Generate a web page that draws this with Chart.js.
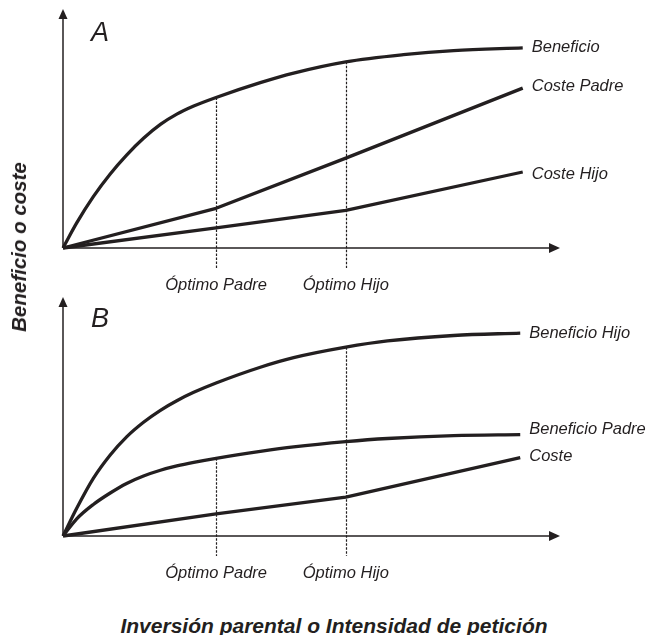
<!DOCTYPE html>
<html>
<head>
<meta charset="utf-8">
<script src="https://cdn.jsdelivr.net/npm/chart.js@4/dist/chart.umd.min.js"></script>
<style>
  html, body { margin: 0; padding: 0; background: #fff; }
  #wrap { position: relative; width: 649px; height: 635px; overflow: hidden; }
  .panel { position: absolute; left: 0; width: 649px; height: 300px; }
  .title { position: absolute; font-family: "Liberation Sans", Arial, sans-serif; font-weight: bold; font-style: italic; color: #231f20; white-space: nowrap; }
  #ytitle { left: 19px; top: 247px; font-size: 20.5px; transform: translate(-50%, -50%) rotate(-90deg); }
  #xtitle { left: 334px; top: 626px; font-size: 21px; transform: translate(-50%, -50%); }
</style>
</head>
<body>
<div id="wrap">
  <div class="panel" style="top:0px"><canvas id="cA" width="649" height="300"></canvas></div>
  <div class="panel" style="top:288px"><canvas id="cB" width="649" height="300"></canvas></div>
  <div class="title" id="ytitle">Beneficio o coste</div>
  <div class="title" id="xtitle">Inversión parental o Intensidad de petición</div>
</div>
<script>
// ---------- DATA ----------
// Panel A
const panelA_beneficio_x = [0, 2.76, 6.1, 9.5, 12.8, 16.2, 19.6, 22.9, 26.3, 30.8, 39.7, 46.4, 56.9, 68.5, 78.6, 92.5];
const panelA_beneficio_y = [0, 10.5, 21.5, 31.0, 38.9, 45.9, 51.7, 56.0, 59.4, 63.0, 69.2, 73.2, 77.9, 80.9, 82.6, 83.7];
const panelA_costePadre_x = [0, 30.8, 56.9, 92.5];
const panelA_costePadre_y = [0, 16.6, 37.6, 66.9];
const panelA_costeHijo_x = [0, 30.8, 56.9, 92.5];
const panelA_costeHijo_y = [0, 8.4, 15.7, 31.8];
const panelA_names = ["Beneficio", "Coste Padre", "Coste Hijo"];

// Panel B
const panelB_benefHijo_x = [0, 2.76, 6.1, 9.5, 12.8, 16.2, 19.6, 22.9, 26.3, 30.8, 39.7, 46.4, 56.9, 65.3, 78.6, 92];
const panelB_benefHijo_y = [0, 11.6, 24.1, 33.9, 41.5, 47.6, 52.6, 56.6, 60.1, 64.0, 70.6, 74.6, 79.0, 81.6, 83.9, 84.9];
const panelB_benefPadre_x = [0, 2.76, 6.1, 9.5, 12.8, 16.2, 19.6, 22.9, 26.3, 30.8, 39.7, 46.4, 56.9, 65.3, 78.6, 92];
const panelB_benefPadre_y = [0, 7.2, 13.2, 18.0, 22.0, 25.1, 27.5, 29.3, 30.8, 32.5, 35.4, 37.3, 39.5, 40.8, 42.0, 42.4];
const panelB_coste_x = [0, 30.8, 56.9, 92];
const panelB_coste_y = [0, 9.3, 16.3, 32.8];
const panelB_names = ["Beneficio Hijo", "Beneficio Padre", "Coste"];
// curved (benefit) vs straight (cost) series
const panelA_curved = [true, false, false];
const panelB_curved = [true, true, false];

// Optima (x positions) and their labels
const optimo_x = [30.8, 56.9];
const optimo_labels = ["Óptimo Padre", "Óptimo Hijo"];
// which series the dashed line rises to, per panel (index into that panel's series)
const panelA_optimo_series = [0, 0];
const panelB_optimo_series = [1, 0];

// ---------- DRAWING ----------
const INK = "#231f20";
const FONT = '"Liberation Sans", Arial, sans-serif';

const decor = {
  id: 'decor',
  beforeDatasetsDraw(chart, args, opts) {
    const ctx = chart.ctx, xs = chart.scales.x, ys = chart.scales.y;
    const x0 = xs.getPixelForValue(0), y0 = ys.getPixelForValue(0);
    const top = chart.chartArea.top, right = chart.chartArea.right;
    ctx.save();
    ctx.strokeStyle = INK; ctx.fillStyle = INK; ctx.lineWidth = 1.5;
    // y axis
    ctx.beginPath(); ctx.moveTo(x0, y0); ctx.lineTo(x0, top + 8); ctx.stroke();
    ctx.beginPath(); ctx.moveTo(x0, top); ctx.lineTo(x0 - 4.5, top + 10); ctx.lineTo(x0 + 4.5, top + 10); ctx.closePath(); ctx.fill();
    // x axis
    ctx.beginPath(); ctx.moveTo(x0, y0); ctx.lineTo(right - 8, y0); ctx.stroke();
    ctx.beginPath(); ctx.moveTo(right, y0); ctx.lineTo(right - 11, y0 - 5); ctx.lineTo(right - 11, y0 + 5); ctx.closePath(); ctx.fill();
    // dashed optimum lines
    ctx.lineWidth = 1.2; ctx.setLineDash([2.5, 1.5]);
    optimo_x.forEach((ox, i) => {
      const ds = chart.data.datasets[opts.optSeries[i]].data;
      const pt = ds.find(p => p.x === ox);
      const px = Math.round(xs.getPixelForValue(ox)) + 0.5;
      ctx.beginPath();
      ctx.moveTo(px, ys.getPixelForValue(pt.y));
      ctx.lineTo(px, y0 + 20);
      ctx.stroke();
    });
    ctx.restore();
  },
  afterDatasetsDraw(chart, args, opts) {
    const ctx = chart.ctx, xs = chart.scales.x, ys = chart.scales.y;
    const x0 = xs.getPixelForValue(0), y0 = ys.getPixelForValue(0);
    ctx.save();
    ctx.fillStyle = INK;
    // panel letter
    ctx.font = 'italic 27px ' + FONT;
    ctx.textAlign = 'left'; ctx.textBaseline = 'middle';
    ctx.fillText(opts.letter, x0 + 28, chart.chartArea.top + opts.letterDy);
    // series labels
    ctx.font = 'italic 16.5px ' + FONT;
    chart.data.datasets.forEach((ds, i) => {
      const last = ds.data[ds.data.length - 1];
      ctx.fillText(ds.label, xs.getPixelForValue(last.x) + 9, ys.getPixelForValue(last.y) + opts.labelDy[i]);
    });
    // optimum labels
    ctx.textAlign = 'center';
    optimo_x.forEach((ox, i) => {
      ctx.fillText(optimo_labels[i], xs.getPixelForValue(ox), y0 + 37);
    });
    ctx.restore();
  }
};

function pts(xs, ys) { return xs.map((x, i) => ({ x: x, y: ys[i] })); }

function makePanel(id, names, seriesX, seriesY, curved, optSeries, letter, letterDy, labelDy) {
  return new Chart(document.getElementById(id), {
    type: 'line',
    data: {
      datasets: names.map((n, i) => ({
        label: n,
        data: pts(seriesX[i], seriesY[i]),
        borderColor: INK,
        borderWidth: 3.3,
        pointRadius: 0,
        fill: false,
        cubicInterpolationMode: curved[i] ? 'monotone' : 'default',
        tension: 0,
        clip: false,
        borderCapStyle: 'butt',
        borderJoinStyle: 'round'
      }))
    },
    options: {
      responsive: false,
      animation: false,
      events: [],
      layout: { padding: { left: 63, right: 89, top: 9, bottom: 52 } },
      scales: {
        x: { type: 'linear', min: 0, max: 100, display: false },
        y: { type: 'linear', min: 0, max: 100, display: false }
      },
      plugins: {
        legend: { display: false },
        tooltip: { enabled: false },
        decor: { letter: letter, letterDy: letterDy, optSeries: optSeries, labelDy: labelDy }
      }
    },
    plugins: [decor]
  });
}

makePanel('cA', panelA_names,
  [panelA_beneficio_x, panelA_costePadre_x, panelA_costeHijo_x],
  [panelA_beneficio_y, panelA_costePadre_y, panelA_costeHijo_y],
  panelA_curved, panelA_optimo_series, 'A', 24, [-1, -2, 2]);

makePanel('cB', panelB_names,
  [panelB_benefHijo_x, panelB_benefPadre_x, panelB_coste_x],
  [panelB_benefHijo_y, panelB_benefPadre_y, panelB_coste_y],
  panelB_curved, panelB_optimo_series, 'B', 22, [0, -5, -1]);
</script>
</body>
</html>
